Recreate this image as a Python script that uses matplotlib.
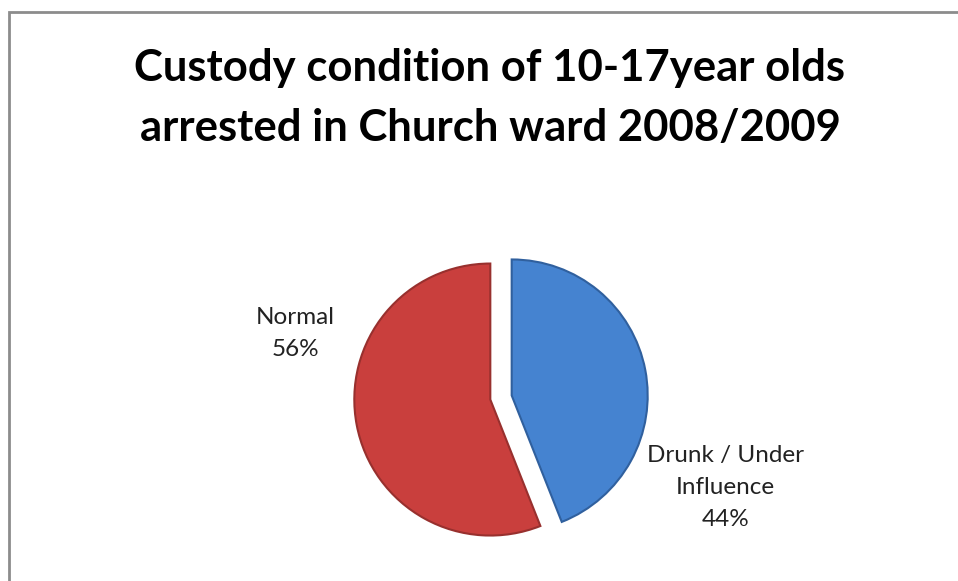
import matplotlib.pyplot as plt
from matplotlib.patches import Rectangle

# data
categories = ['Drunk / Under\nInfluence', 'Normal']
shares = [44, 56]
colours = ['#4583D0', '#C93F3D']
edge_colours = ['#30609E', '#98302E']

W, H = 958, 581
fig = plt.figure(figsize=(W / 100, H / 100), dpi=100)
fig.patch.set_facecolor('white')

# grey chart border (right / bottom run off the picture)
fig.add_artist(Rectangle((9 / W, -0.05), 1.2, (H - 12) / H + 0.05,
                         transform=fig.transFigure, fill=False,
                         edgecolor='#8c8c8c', linewidth=2))

fig.text(490 / W, 1 - 98 / H,
         'Custody condition of 10-17year olds\narrested in Church ward 2008/2009',
         ha='center', va='center', fontsize=31.4, fontweight='bold',
         family='Lato', linespacing=1.6, color='black')

# pie axes: radius 1 -> 136 px, centre at (501, 397.5)
R = 136
half = 170
cx, cy = 501, H - 397.5
ax = fig.add_axes([(cx - half) / W, (cy - half) / H, 2 * half / W, 2 * half / H])
lim = half / R
ax.set_xlim(-lim, lim)
ax.set_ylim(-lim, lim)
ax.set_aspect('equal')
ax.axis('off')

wedges, _ = ax.pie(shares, colors=colours, startangle=90, counterclock=False,
                   explode=[0.08, 0.08], radius=1,
                   wedgeprops=dict(linewidth=1.5))
for w, ec in zip(wedges, edge_colours):
    w.set_edgecolor(ec)

# labels
lab_pos = [(1.65, -0.665), (-1.51, 0.47)]
for name, val, (x, y) in zip(categories, shares, lab_pos):
    ax.text(x, y, f'{name}\n{val}%', ha='center', va='center',
            fontsize=17.5, family='Lato', linespacing=1.65, color='#222222',
            clip_on=False)

fig.savefig('out.png', dpi=100, facecolor='white')
